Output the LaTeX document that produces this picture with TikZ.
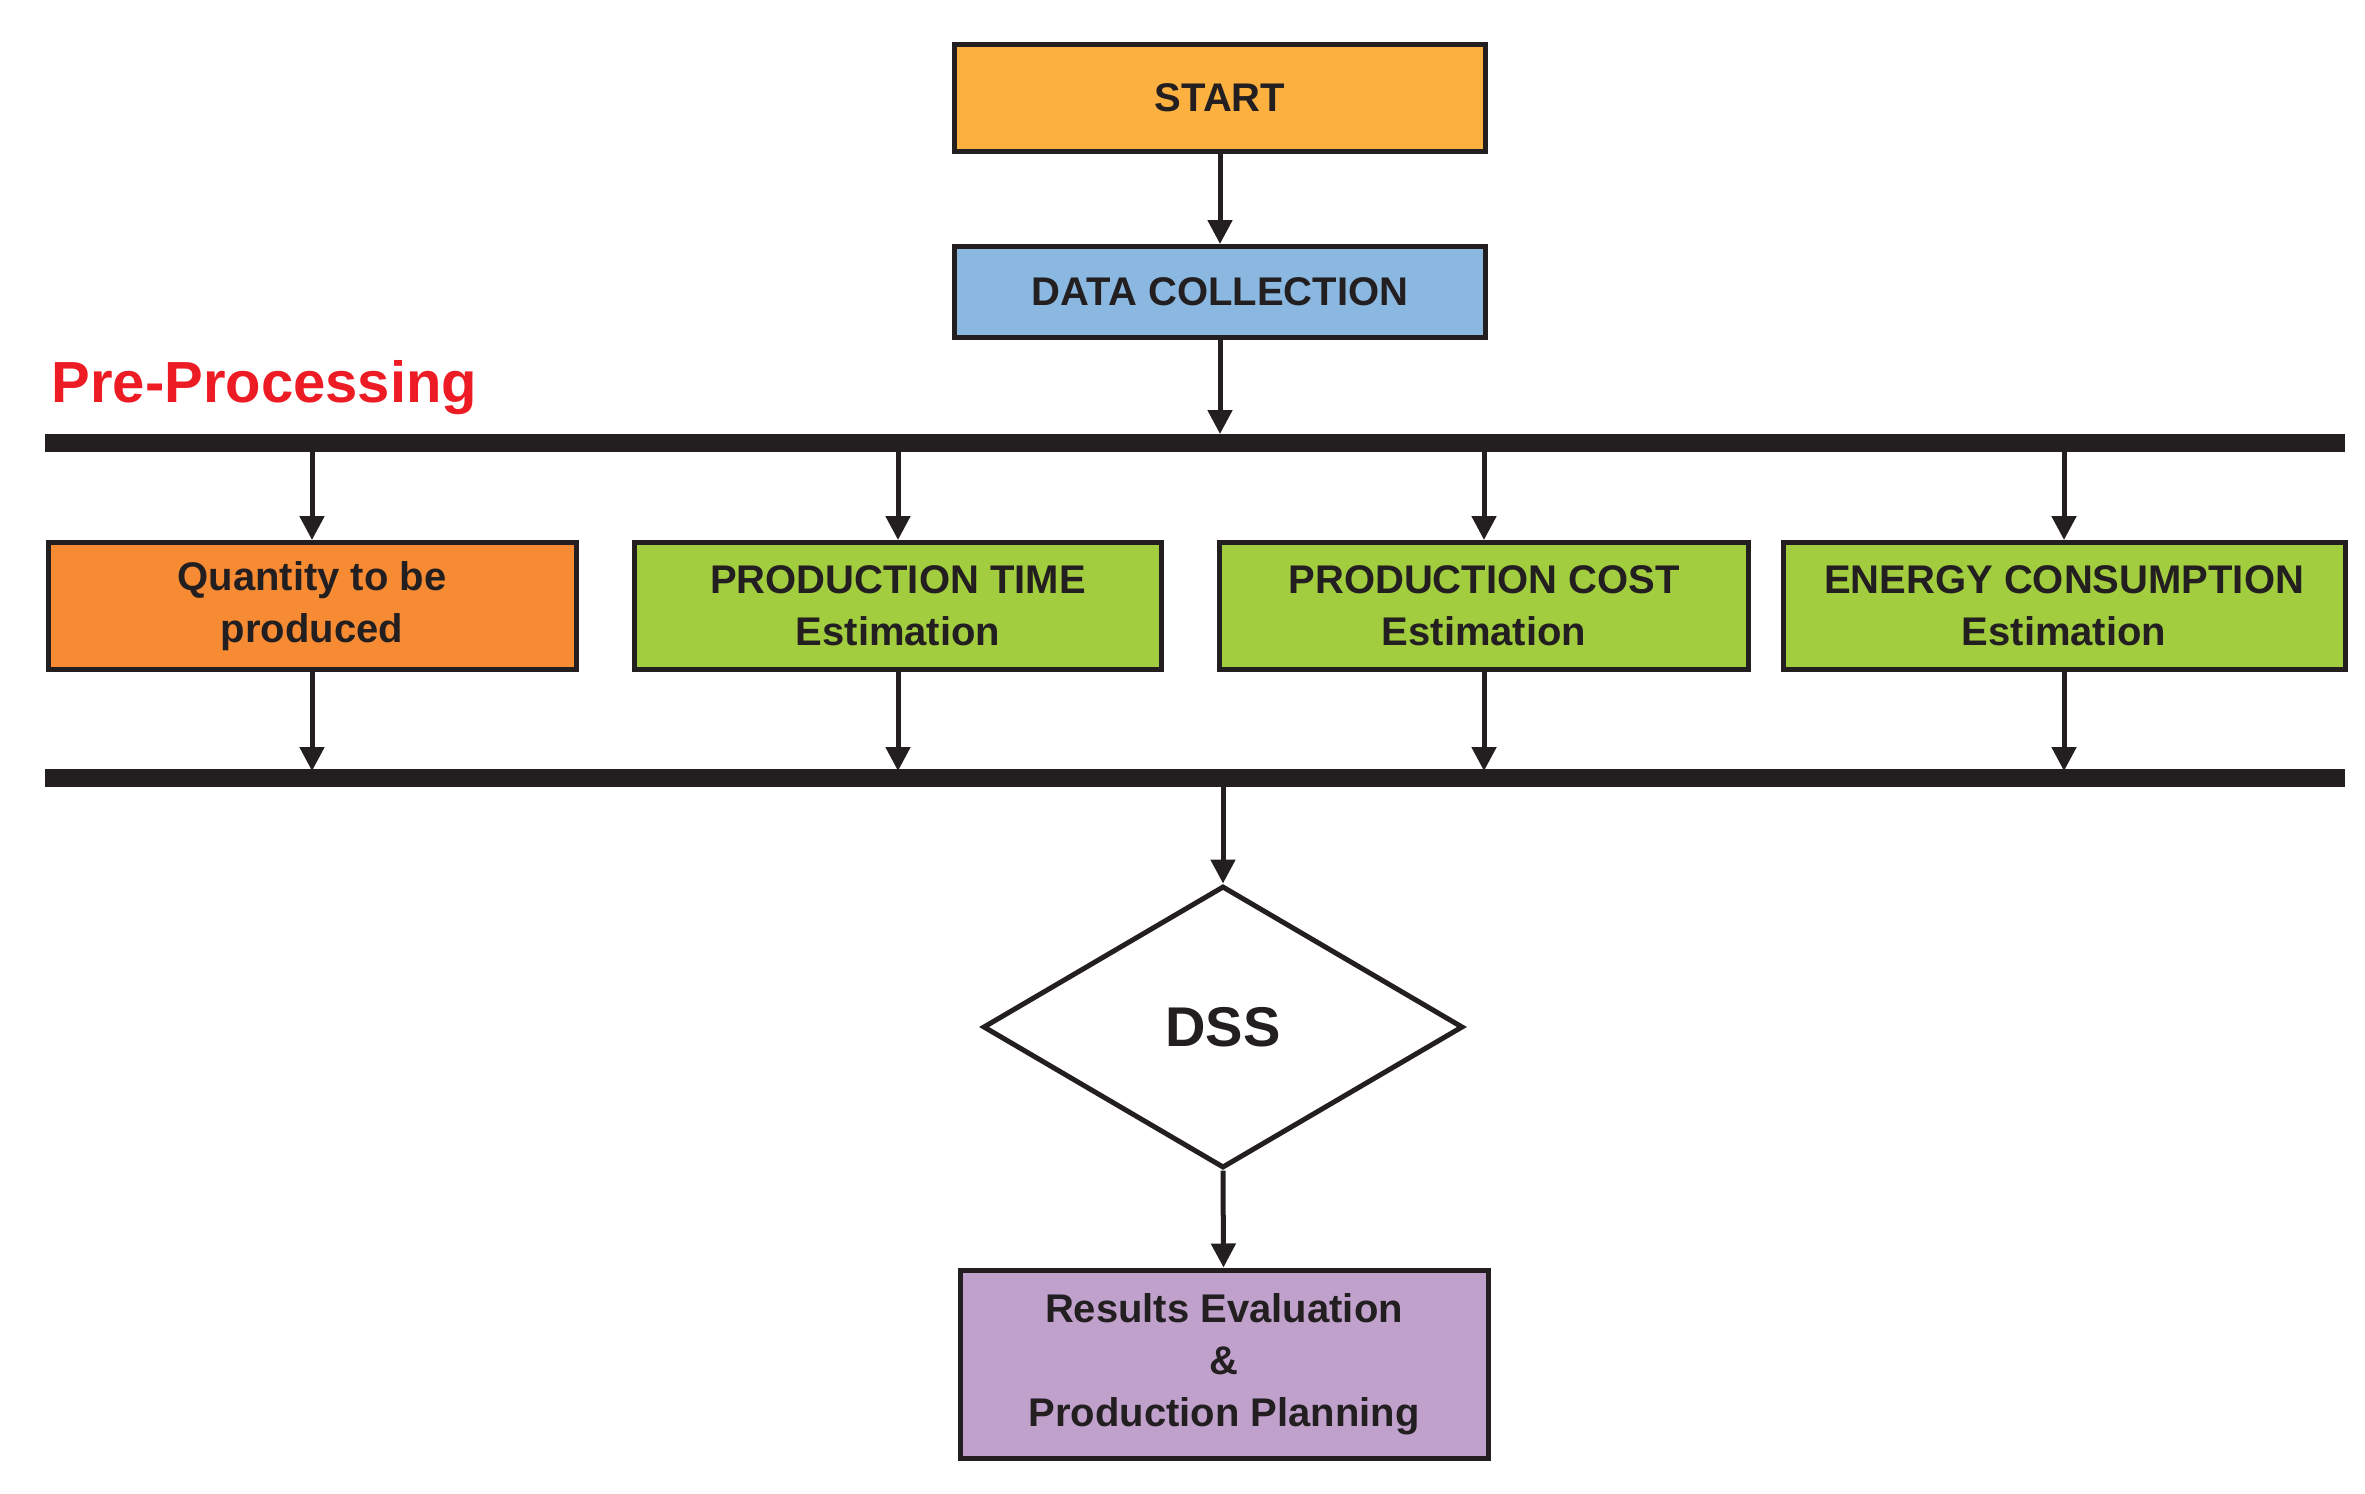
\documentclass[tikz,border=0pt]{standalone}
\usepackage{fontspec}
\setmainfont{Liberation Sans}
\usetikzlibrary{shapes.geometric,arrows.meta}
\definecolor{cstart}{HTML}{FBB040}
\definecolor{cdata}{HTML}{8AB8E0}
\definecolor{cqty}{HTML}{F68B33}
\definecolor{cgreen}{HTML}{A2CD3E}
\definecolor{cres}{HTML}{C0A1CC}
\definecolor{cred}{HTML}{ED1C24}
\definecolor{cline}{HTML}{231F20}
\begin{document}
\begin{tikzpicture}[x=1pt,y=-1pt,
 box/.style={draw=cline,line width=5pt,minimum width=#1,align=center,font=\fontsize{40}{52}\selectfont\bfseries,text=cline},
 arr/.style={draw=cline,line width=5pt,-{Triangle[length=24pt,width=24pt]}},
 bar/.style={fill=cline}]
\useasboundingbox (0,0) rectangle (2365,1493);
\node[box=531pt,fill=cstart,minimum height=107pt] (start) at (1220,98) {START};
\node[box=531pt,fill=cdata,minimum height=91pt] (data) at (1220,292) {DATA COLLECTION};
\node[text=cred,font=\fontsize{58}{60}\selectfont\bfseries,anchor=west] (pre) at (48,388) {Pre-Processing};
\fill[bar] (45,434) rectangle (2345,452);
\coordinate (b1) at (1220,434);
\fill[bar] (45,769) rectangle (2345,787);
\node[box=528pt,fill=cqty,minimum height=127pt] (q) at (312,606) {Quantity to be\\produced};
\node[box=527pt,fill=cgreen,minimum height=127pt] (t) at (898,606) {PRODUCTION TIME\\Estimation};
\node[box=529pt,fill=cgreen,minimum height=127pt] (c) at (1484,606) {PRODUCTION COST\\Estimation};
\node[box=562pt,fill=cgreen,minimum height=127pt] (e) at (2064,606) {ENERGY CONSUMPTION\\Estimation};
\node[diamond,draw=cline,line width=5pt,fill=white,minimum width=480pt,minimum height=282pt,inner sep=0pt,font=\fontsize{56}{60}\selectfont\bfseries,text=cline] (dss) at (1223,1027) {DSS};
\node[box=528pt,fill=cres,minimum height=188pt] (res) at (1224,1364) {Results Evaluation\\\&\\Production Planning};
\foreach \n in {q,t,c,e}{
 \path (\n.north) ++(0,-91) coordinate (\n top);
 \draw[arr] (\n top) -- (\n.north);
 \path (\n.south) ++(0,99) coordinate (\n bot);
 \draw[arr] (\n.south) -- (\n bot);
}
\draw[arr] (start) -- (data);
\draw[arr] (data) -- (b1);
\coordinate (b2) at (1223,787);
\draw[arr] (b2) -- (dss.north);
\draw[arr] (dss.south) -- (res);
\end{tikzpicture}
\end{document}
